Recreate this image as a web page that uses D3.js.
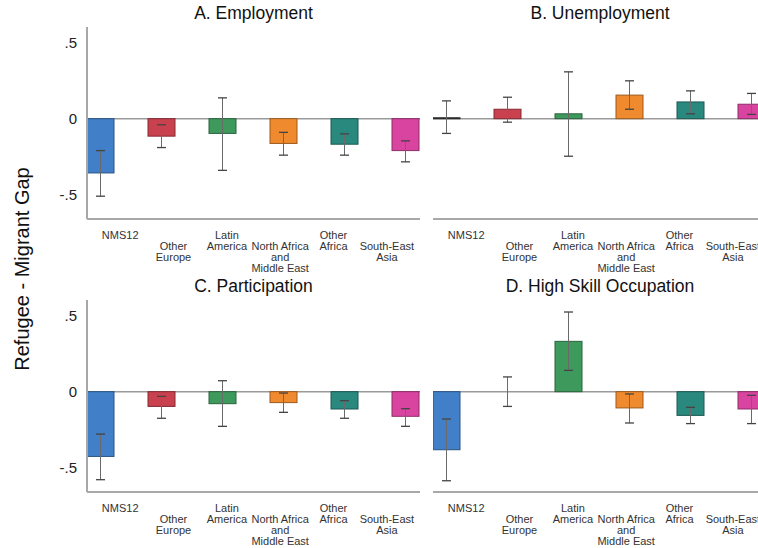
<!DOCTYPE html>
<html>
<head>
<meta charset="utf-8">
<script src="https://cdn.jsdelivr.net/npm/d3@7"></script>
<style>
  body { margin: 0; background: #fff; }
  svg { font-family: Arial, "Liberation Sans", sans-serif; }
</style>
</head>
<body>
<script>
// groups along x
var categories = ['NMS12', 'Other Europe', 'Latin America', 'North Africa and Middle East', 'Other Africa', 'South-East Asia'];
var labelLines = [['NMS12'], ['Other', 'Europe'], ['Latin', 'America'], ['North Africa', 'and', 'Middle East'], ['Other', 'Africa'], ['South-East', 'Asia']];
var colors = ['#4180c8', '#c9404f', '#3e995d', '#f08a2e', '#2a897f', '#d8449f'];
var yTicks = [-0.5, 0, 0.5];
var yTickLabels = ['-.5', '0', '.5'];

var titles = ['A. Employment', 'B. Unemployment', 'C. Participation', 'D. High Skill Occupation'];

// point estimates and 95% intervals, one array per panel
var employment = [-0.357, -0.115, -0.097, -0.163, -0.168, -0.21];
var employmentLo = [-0.51, -0.19, -0.34, -0.24, -0.24, -0.284];
var employmentHi = [-0.21, -0.04, 0.137, -0.09, -0.10, -0.146];

var unemployment = [0.006, 0.062, 0.032, 0.155, 0.11, 0.095];
var unemploymentLo = [-0.097, -0.023, -0.247, 0.062, 0.032, 0.028];
var unemploymentHi = [0.117, 0.141, 0.308, 0.249, 0.183, 0.166];

var participation = [-0.426, -0.097, -0.079, -0.072, -0.114, -0.162];
var participationLo = [-0.579, -0.175, -0.228, -0.136, -0.175, -0.228];
var participationHi = [-0.279, -0.031, 0.072, -0.009, -0.059, -0.112];

var highSkill = [-0.382, 0.0, 0.331, -0.107, -0.156, -0.114];
var highSkillLo = [-0.586, -0.097, 0.14, -0.206, -0.21, -0.21];
var highSkillHi = [-0.18, 0.097, 0.524, -0.015, -0.103, -0.024];

var panels = [
  {title: titles[0], est: employment, lo: employmentLo, hi: employmentHi, x0: 87, x1: 420, bottom: 219, yAxis: true},
  {title: titles[1], est: unemployment, lo: unemploymentLo, hi: unemploymentHi, x0: 433, x1: 767, bottom: 219, yAxis: false},
  {title: titles[2], est: participation, lo: participationLo, hi: participationHi, x0: 87, x1: 420, bottom: 492, yAxis: true},
  {title: titles[3], est: highSkill, lo: highSkillLo, hi: highSkillHi, x0: 433, x1: 767, bottom: 492, yAxis: false}
];

var svg = d3.select('body')
            .append('svg')
            .attr('width', 758)
            .attr('height', 548);

svg.append('text')
   .attr('transform', 'translate(29,269) rotate(-90)')
   .attr('text-anchor', 'middle')
   .attr('font-size', 20)
   .attr('fill', '#111')
   .text('Refugee - Migrant Gap');

panels.forEach(function(p, pi) {
  var top = p.bottom - 192;
  var y = d3.scaleLinear().domain([-0.66, 0.603]).range([p.bottom, top]);
  var x = d3.scaleBand().domain(categories).range([p.x0, p.x0 + 366]).padding(0);
  var xl = d3.scaleBand().domain(categories).range([p.x0 + 6.5, p.x0 + 326.5]).padding(0);
  var bw = 27;

  var g = svg.append('g');

  g.append('clipPath').attr('id', 'clip' + pi)
    .append('rect').attr('x', p.x0).attr('y', top - 5)
    .attr('width', p.x1 - p.x0).attr('height', p.bottom - top + 10);

  g.append('text')
   .attr('x', (p.x0 + p.x1) / 2)
   .attr('y', top - 8)
   .attr('text-anchor', 'middle')
   .attr('font-size', 17.5)
   .attr('fill', '#111')
   .text(p.title);

  var plot = g.append('g').attr('clip-path', 'url(#clip' + pi + ')');

  // zero line
  plot.append('line')
      .attr('x1', p.x0).attr('x2', p.x1)
      .attr('y1', y(0)).attr('y2', y(0))
      .attr('stroke', '#9a9a9a').attr('stroke-width', 1.5);

  var rows = categories.map(function(c, i) {
    return {cat: c, est: p.est[i], lo: p.lo[i], hi: p.hi[i], color: colors[i], i: i};
  });

  plot.selectAll('rect.bar')
      .data(rows)
      .enter()
        .append('rect')
        .attr('class', 'bar')
        .attr('x', function(d) { return x(d.cat); })
        .attr('width', bw)
        .attr('y', function(d) { return y(Math.max(0, d.est)); })
        .attr('height', function(d) { return Math.max(Math.abs(y(d.est) - y(0)), d.est === 0 ? 0 : 1); })
        .attr('fill', function(d) { return d.color; })
        .attr('stroke', function(d) {
          var h = Math.abs(y(d.est) - y(0));
          return h < 3 ? '#2a2a2a' : d3.color(d.color).darker(1.2);
        })
        .attr('stroke-width', 1);

  var cx = function(d) { return x(d.cat) + bw / 2; };

  plot.selectAll('line.whisker')
      .data(rows)
      .enter()
        .append('line')
        .attr('x1', cx).attr('x2', cx)
        .attr('y1', function(d) { return y(d.lo); })
        .attr('y2', function(d) { return y(d.hi); })
        .attr('stroke', '#6a6a6a').attr('stroke-width', 1);

  ['lo', 'hi'].forEach(function(k) {
    plot.selectAll('line.cap' + k)
        .data(rows)
        .enter()
          .append('line')
          .attr('x1', function(d) { return cx(d) - 4.5; })
          .attr('x2', function(d) { return cx(d) + 4.5; })
          .attr('y1', function(d) { return y(d[k]); })
          .attr('y2', function(d) { return y(d[k]); })
          .attr('stroke', '#444').attr('stroke-width', 1.3);
  });

  // axes
  g.append('line')
   .attr('x1', p.x0).attr('x2', p.x1)
   .attr('y1', p.bottom).attr('y2', p.bottom)
   .attr('stroke', '#a8a8a8').attr('stroke-width', 2);

  if (p.yAxis) {
    g.append('line')
     .attr('x1', p.x0).attr('x2', p.x0)
     .attr('y1', top).attr('y2', p.bottom)
     .attr('stroke', '#a8a8a8').attr('stroke-width', 2);
    g.selectAll('text.ytick')
     .data(yTicks)
     .enter()
       .append('text')
       .attr('x', p.x0 - 10)
       .attr('y', function(d) { return y(d); })
       .attr('dy', '0.35em')
       .attr('text-anchor', 'end')
       .attr('font-size', 15)
       .attr('fill', '#222')
       .text(function(d, i) { return yTickLabels[i]; });
  }

  // staggered category labels
  var lab = g.selectAll('text.xlab')
     .data(rows)
     .enter()
       .append('text')
       .attr('text-anchor', 'middle')
       .attr('font-family', '"Liberation Sans Narrow", "Arial Narrow", sans-serif')
       .attr('font-size', 11)
       .attr('fill', '#333')
       .attr('transform', function(d) {
         var off = d.i % 2 === 0 ? 0 : 11;
         return 'translate(' + (xl(d.cat) + xl.bandwidth() / 2) + ',' + (p.bottom + 20 + off) + ')';
       });
  lab.selectAll('tspan')
     .data(function(d) { return labelLines[d.i]; })
     .enter()
       .append('tspan')
       .attr('x', 0)
       .attr('dy', function(d, i) { return i === 0 ? 0 : 11; })
       .text(function(d) { return d; });
});
</script>
</body>
</html>
